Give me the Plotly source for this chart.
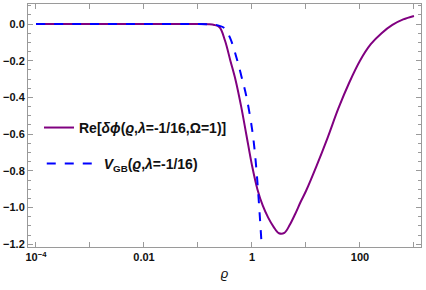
import plotly.graph_objects as go

# Re[delta phi] curve (purple)
rho_re = [1e-4, 1e-3, 1e-2, 0.1, 0.158, 0.200, 0.251, 0.316, 0.398, 0.501, 0.631, 0.794,
          1.0, 1.259, 1.585, 1.995, 2.512, 3.162, 3.981, 5.012, 6.310, 7.943, 10.0,
          15.85, 25.12, 39.81, 63.10, 100, 158.5, 251.2, 398.1, 631.0, 1000]
val_re = [0.0, 0.0, 0.0, 0.0, -0.001, -0.005, -0.018, -0.09, -0.2, -0.31, -0.45, -0.61,
          -0.77, -0.9, -0.99, -1.055, -1.105, -1.14, -1.138, -1.094, -1.035, -0.97, -0.91,
          -0.77, -0.62, -0.46, -0.32, -0.2, -0.11, -0.05, -0.005, 0.025, 0.044]

# V_GB curve (blue dashed)
rho_v = [1e-4, 1e-3, 1e-2, 0.1, 0.158, 0.200, 0.251, 0.316, 0.398, 0.501, 0.631, 0.794,
         1.0, 1.122, 1.259, 1.413, 1.585]
val_v = [0.0, 0.0, 0.0, 0.0, -0.001, -0.003, -0.01, -0.025, -0.08, -0.17, -0.28, -0.40,
         -0.57, -0.69, -0.86, -1.07, -1.31]

x_tickvals = [1e-4, 1e-3, 1e-2, 1e-1, 1, 10, 100, 1000]
x_ticktext = ["10<sup>−4</sup>", "", "0.01", "", "1", "", "100", ""]
y_tickvals = [0.0, -0.2, -0.4, -0.6, -0.8, -1.0, -1.2]

name_re = "Re[<i>δϕ</i>(<i>ϱ</i>,<i>λ</i>=-1/16,Ω=1)]"
name_v = "<i>V</i><sub>GB</sub>(<i>ϱ</i>,<i>λ</i>=-1/16)"

fig = go.Figure()
fig.add_trace(go.Scatter(x=rho_re, y=val_re, mode="lines", name=name_re,
                         legend="legend",
                         line=dict(color="#800080", width=2, shape="spline", smoothing=1.0)))
fig.add_trace(go.Scatter(x=rho_v, y=val_v, mode="lines", name=name_v,
                         legend="legend2",
                         line=dict(color="#0000ff", width=2, dash="dash", shape="spline", smoothing=1.0)))

axis_col = "#9a9a9a"
tickfont = dict(family="Liberation Sans, Arial, sans-serif", size=11, color="#111", weight="bold")
legfont = dict(family="Liberation Sans, Arial, sans-serif", size=14, color="#111", weight="bold")

fig.update_layout(
    width=426, height=290,
    margin=dict(l=28, r=5, t=4, b=43),
    paper_bgcolor="white", plot_bgcolor="white",
    showlegend=True,
    legend=dict(x=0.028, y=0.49, xanchor="left", yanchor="middle",
                bgcolor="rgba(0,0,0,0)", font=legfont),
    legend2=dict(x=0.035, y=0.342, xanchor="left", yanchor="middle", itemwidth=52,
                 bgcolor="rgba(0,0,0,0)", font=legfont),
    xaxis=dict(type="log", range=[-4.148, 3.13], automargin=False,
               tickvals=x_tickvals, ticktext=x_ticktext,
               ticks="inside", ticklen=5, tickcolor=axis_col,
               showline=True, linecolor=axis_col, linewidth=1, mirror="ticks",
               showgrid=False, zeroline=False, tickfont=tickfont,
               title=dict(text="<i>ϱ</i>", standoff=6,
                          font=dict(family="Liberation Sans, Arial, sans-serif", size=13, color="#111"))),
    yaxis=dict(range=[-1.215, 0.109], tickvals=y_tickvals, tickformat=".1f", automargin=False,
               ticks="inside", ticklen=5, tickcolor=axis_col,
               minor=dict(dtick=0.05, tick0=0, ticks="inside", ticklen=3, tickcolor=axis_col),
               showline=True, linecolor=axis_col, linewidth=1, mirror="ticks",
               showgrid=False, zeroline=False, tickfont=tickfont),
)

fig.write_html("out.html", config={"displayModeBar": False},
               post_script="document.body.style.margin='0';")
